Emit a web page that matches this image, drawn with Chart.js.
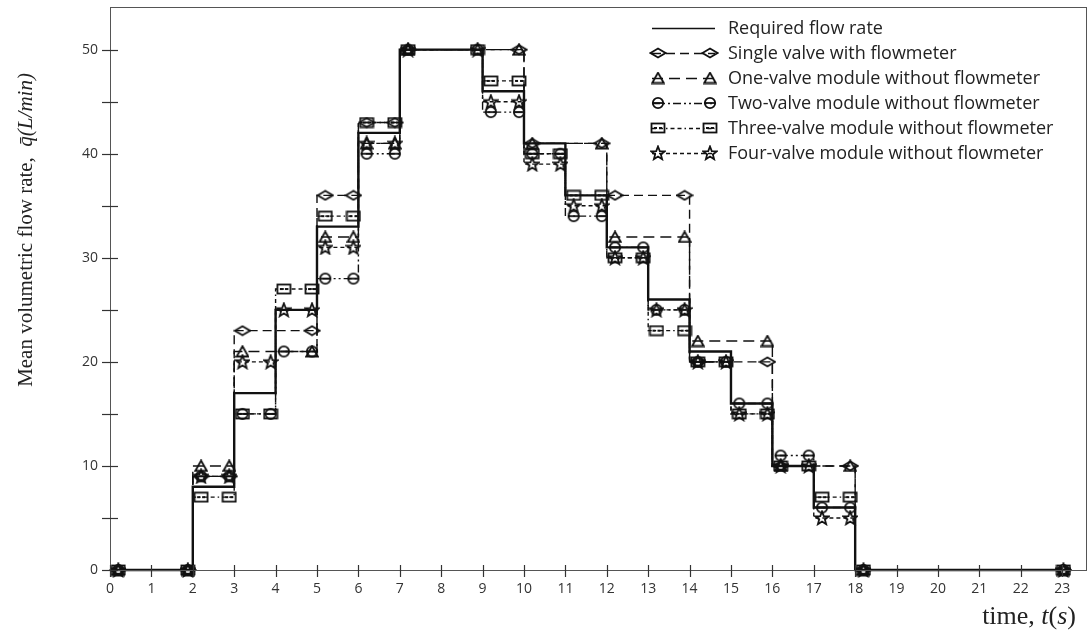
<!DOCTYPE html>
<html>
<head>
<meta charset="utf-8">
<script src="https://cdn.jsdelivr.net/npm/chart.js@4.4.1/dist/chart.umd.min.js"></script>
<style>
  html, body { margin: 0; padding: 0; background: #fff; }
  #wrap { width: 1089px; height: 635px; position: relative; }
</style>
</head>
<body>
<div id="wrap"><canvas id="c" width="1089" height="635"></canvas></div>
<script>
// Step profiles: time breakpoints (s) and the value held on each interval (L/min)
const requiredEdges  = [0, 2, 3, 4, 5, 6, 7, 9, 10, 11, 12, 13, 14, 15, 16, 17, 18, 23.15];
const requiredValues = [0, 8, 17, 25, 33, 42, 50, 46, 41, 36, 31, 26, 21, 16, 10, 6, 0];

const singleEdges  = [0, 2, 3, 5, 6, 7, 10, 12, 14, 16, 18, 23.15];
const singleValues = [0, 9, 23, 36, 43, 50, 41, 36, 20, 10, 0];

const oneValveEdges  = [0, 2, 3, 5, 6, 7, 10, 12, 14, 16, 18, 23.15];
const oneValveValues = [0, 10, 21, 32, 41, 50, 41, 32, 22, 10, 0];

const twoValveEdges  = [0, 2, 3, 4, 5, 6, 7, 9, 10, 11, 12, 13, 14, 15, 16, 17, 18, 23.15];
const twoValveValues = [0, 9, 15, 21, 28, 40, 50, 44, 40, 34, 31, 25, 20, 16, 11, 6, 0];

const threeValveEdges  = [0, 2, 3, 4, 5, 6, 7, 9, 10, 11, 12, 13, 14, 15, 16, 17, 18, 23.15];
const threeValveValues = [0, 7, 15, 27, 34, 43, 50, 47, 40, 36, 30, 23, 20, 15, 10, 7, 0];

const fourValveEdges  = [0, 2, 3, 4, 5, 6, 7, 9, 10, 11, 12, 13, 14, 15, 16, 17, 18, 23.15];
const fourValveValues = [0, 9, 20, 25, 31, 41, 50, 45, 39, 35, 30, 25, 20, 15, 10, 5, 0];

const seriesNames = [
  'Required flow rate',
  'Single valve with flowmeter',
  'One-valve module without flowmeter',
  'Two-valve module without flowmeter',
  'Three-valve module without flowmeter',
  'Four-valve module without flowmeter'
];

const xTickValues = [0,1,2,3,4,5,6,7,8,9,10,11,12,13,14,15,16,17,18,19,20,21,22,23];
const yTickValues = [0,5,10,15,20,25,30,35,40,45,50];
const yTickLabels = [0,10,20,30,40,50];

const INK = '#111';

// ---- marker glyphs ----
function glyph(w, h, draw) {
  const c = document.createElement('canvas');
  c.width = w; c.height = h;
  const g = c.getContext('2d');
  g.strokeStyle = INK; g.lineWidth = 1.8; g.lineJoin = 'miter';
  draw(g);
  return c;
}
const markDiamond = glyph(18, 12, g => {
  g.beginPath(); g.moveTo(1.5, 6); g.lineTo(9, 1.5); g.lineTo(16.5, 6); g.lineTo(9, 10.5); g.closePath(); g.stroke();
});
const markTriangle = glyph(14, 13, g => {
  g.beginPath(); g.moveTo(7, 1.2); g.lineTo(12.8, 11.5); g.lineTo(1.2, 11.5); g.closePath(); g.stroke();
});
const markCircle = glyph(14, 14, g => {
  g.beginPath(); g.arc(7, 7, 5.2, 0, Math.PI * 2); g.stroke();
  g.beginPath(); g.moveTo(1.5, 7); g.lineTo(12.5, 7); g.stroke();
});
const markRect = glyph(16, 12, g => {
  g.strokeRect(1.5, 1.5, 13, 9);
  g.beginPath(); g.moveTo(4, 6); g.lineTo(7, 6); g.moveTo(9, 6); g.lineTo(12, 6); g.stroke();
});
const markStar = glyph(16, 16, g => {
  g.beginPath();
  for (let i = 0; i < 10; i++) {
    const r = i % 2 === 0 ? 7 : 3;
    const a = -Math.PI / 2 + i * Math.PI / 5;
    const px = 8 + r * Math.cos(a), py = 8.5 + r * Math.sin(a);
    if (i === 0) g.moveTo(px, py); else g.lineTo(px, py);
  }
  g.closePath(); g.stroke();
});

// ---- build step polylines; markers sit just inside both ends of each interval ----
function stepPoints(edges, values, marked) {
  const pts = [];
  for (let i = 0; i < values.length; i++) {
    const a = edges[i], b = edges[i + 1], v = values[i];
    pts.push({ x: a, y: v });
    if (marked) {
      pts.push({ x: a + 0.2, y: v, m: 1 });
      pts.push({ x: b - 0.12, y: v, m: 1 });
    }
    pts.push({ x: b, y: v });
  }
  return pts;
}

const styles = [
  { dash: [],                      width: 2.4, mark: null },
  { dash: [9, 5],                  width: 1.4, mark: markDiamond },
  { dash: [11, 6],                 width: 1.4, mark: markTriangle },
  { dash: [8, 3, 2, 3, 2, 3],      width: 1.4, mark: markCircle },
  { dash: [4, 3, 4, 3, 1.5, 3],    width: 1.4, mark: markRect },
  { dash: [4, 3],                  width: 1.4, mark: markStar }
];

const profiles = [
  [requiredEdges, requiredValues],
  [singleEdges, singleValues],
  [oneValveEdges, oneValveValues],
  [twoValveEdges, twoValveValues],
  [threeValveEdges, threeValveValues],
  [fourValveEdges, fourValveValues]
];

const datasets = profiles.map((p, i) => ({
  label: seriesNames[i],
  data: stepPoints(p[0], p[1], !!styles[i].mark),
  borderColor: INK,
  borderWidth: styles[i].width,
  borderDash: styles[i].dash,
  tension: 0,
  fill: false,
  clip: false,
  pointStyle: styles[i].mark || 'circle',
  pointRadius: c => (c.raw && c.raw.m ? 5 : 0),
  pointHoverRadius: 0,
  pointBorderWidth: 0,
  pointBackgroundColor: 'rgba(0,0,0,0)'
}));

// ---- frame, crossing tick marks, axis titles and the legend ----
const decorations = {
  id: 'decorations',
  afterDraw(chart) {
    const ctx = chart.ctx;
    const a = chart.chartArea;
    const xs = chart.scales.x, ys = chart.scales.y;
    ctx.save();
    ctx.setLineDash([]);
    ctx.strokeStyle = '#555';
    ctx.lineWidth = 1;
    ctx.strokeRect(a.left + 0.5, a.top + 0.5, a.right - a.left - 1, a.bottom - a.top);

    ctx.strokeStyle = '#333';
    ctx.lineWidth = 1.2;
    yTickValues.forEach(v => {
      const py = Math.round(ys.getPixelForValue(v)) + 0.5;
      ctx.beginPath(); ctx.moveTo(a.left - 8, py); ctx.lineTo(a.left + 8, py); ctx.stroke();
    });
    xTickValues.forEach(v => {
      const px = Math.round(xs.getPixelForValue(v)) + 0.5;
      ctx.beginPath(); ctx.moveTo(px, a.bottom - 5); ctx.lineTo(px, a.bottom + 7); ctx.stroke();
    });

    // y-axis title
    ctx.fillStyle = '#222';
    ctx.save();
    ctx.translate(32, 230);
    ctx.rotate(-Math.PI / 2);
    ctx.textBaseline = 'alphabetic';
    const partA = 'Mean volumetric flow rate,  ';
    const partB = 'q\u0304(L/min)';
    ctx.font = '21px "Liberation Serif"';
    const wA = ctx.measureText(partA).width;
    ctx.font = 'italic 21px "Liberation Serif"';
    const wB = ctx.measureText(partB).width;
    const sx = -(wA + wB) / 2;
    ctx.font = '21px "Liberation Serif"';
    ctx.fillText(partA, sx, 0);
    ctx.font = 'italic 21px "Liberation Serif"';
    ctx.fillText(partB, sx + wA, 0);
    ctx.restore();

    // x-axis title
    ctx.save();
    ctx.textBaseline = 'alphabetic';
    const parts = [['time, ', '26px "Liberation Serif"'], ['t', 'italic 26px "Liberation Serif"'],
                   ['(', '26px "Liberation Serif"'], ['s', 'italic 26px "Liberation Serif"'],
                   [')', '26px "Liberation Serif"']];
    let total = 0;
    parts.forEach(p => { ctx.font = p[1]; total += ctx.measureText(p[0]).width; });
    let cx = 1076 - total;
    parts.forEach(p => { ctx.font = p[1]; ctx.fillText(p[0], cx, 624); cx += ctx.measureText(p[0]).width; });
    ctx.restore();

    // legend
    ctx.font = '18px "Open Sans"';
    ctx.textBaseline = 'middle';
    seriesNames.forEach((name, i) => {
      const ly = 28 + i * 25;
      const st = styles[i];
      ctx.strokeStyle = INK;
      ctx.lineWidth = i === 0 ? 1.6 : 1.4;
      ctx.setLineDash(st.dash);
      ctx.beginPath(); ctx.moveTo(652, ly + 0.5); ctx.lineTo(715, ly + 0.5); ctx.stroke();
      ctx.setLineDash([]);
      if (st.mark) {
        ctx.drawImage(st.mark, 658 - st.mark.width / 2, ly - st.mark.height / 2);
        ctx.drawImage(st.mark, 710 - st.mark.width / 2, ly - st.mark.height / 2);
      }
      ctx.fillStyle = '#222';
      ctx.fillText(name, 728, ly + 1);
    });
    ctx.restore();
  }
};

new Chart(document.getElementById('c'), {
  type: 'line',
  data: { datasets },
  options: {
    responsive: false,
    animation: false,
    events: [],
    layout: { padding: { top: 7, right: 2, left: 0, bottom: 0 } },
    plugins: { legend: { display: false }, tooltip: { enabled: false } },
    scales: {
      x: {
        type: 'linear',
        min: 0,
        max: 23.6,
        grid: { display: false, drawTicks: false },
        border: { display: false },
        afterBuildTicks: s => { s.ticks = xTickValues.map(v => ({ value: v })); },
        afterFit: s => { s.height = 65; s.paddingLeft = 0; s.paddingRight = 0; },
        ticks: {
          autoSkip: false, maxRotation: 0, padding: 11,
          color: '#333', font: { family: '"Open Sans"', size: 14 },
          callback: v => String(v)
        }
      },
      y: {
        type: 'linear',
        min: 0,
        max: 54.1,
        grid: { display: false, drawTicks: false },
        border: { display: false },
        afterBuildTicks: s => { s.ticks = yTickValues.map(v => ({ value: v })); },
        afterFit: s => { s.width = 110; s.paddingTop = 0; s.paddingBottom = 0; },
        ticks: {
          padding: 12,
          color: '#333', font: { family: '"Open Sans"', size: 14 },
          callback: v => (yTickLabels.includes(v) ? String(v) : '')
        }
      }
    }
  },
  plugins: [decorations]
});
</script>
</body>
</html>
